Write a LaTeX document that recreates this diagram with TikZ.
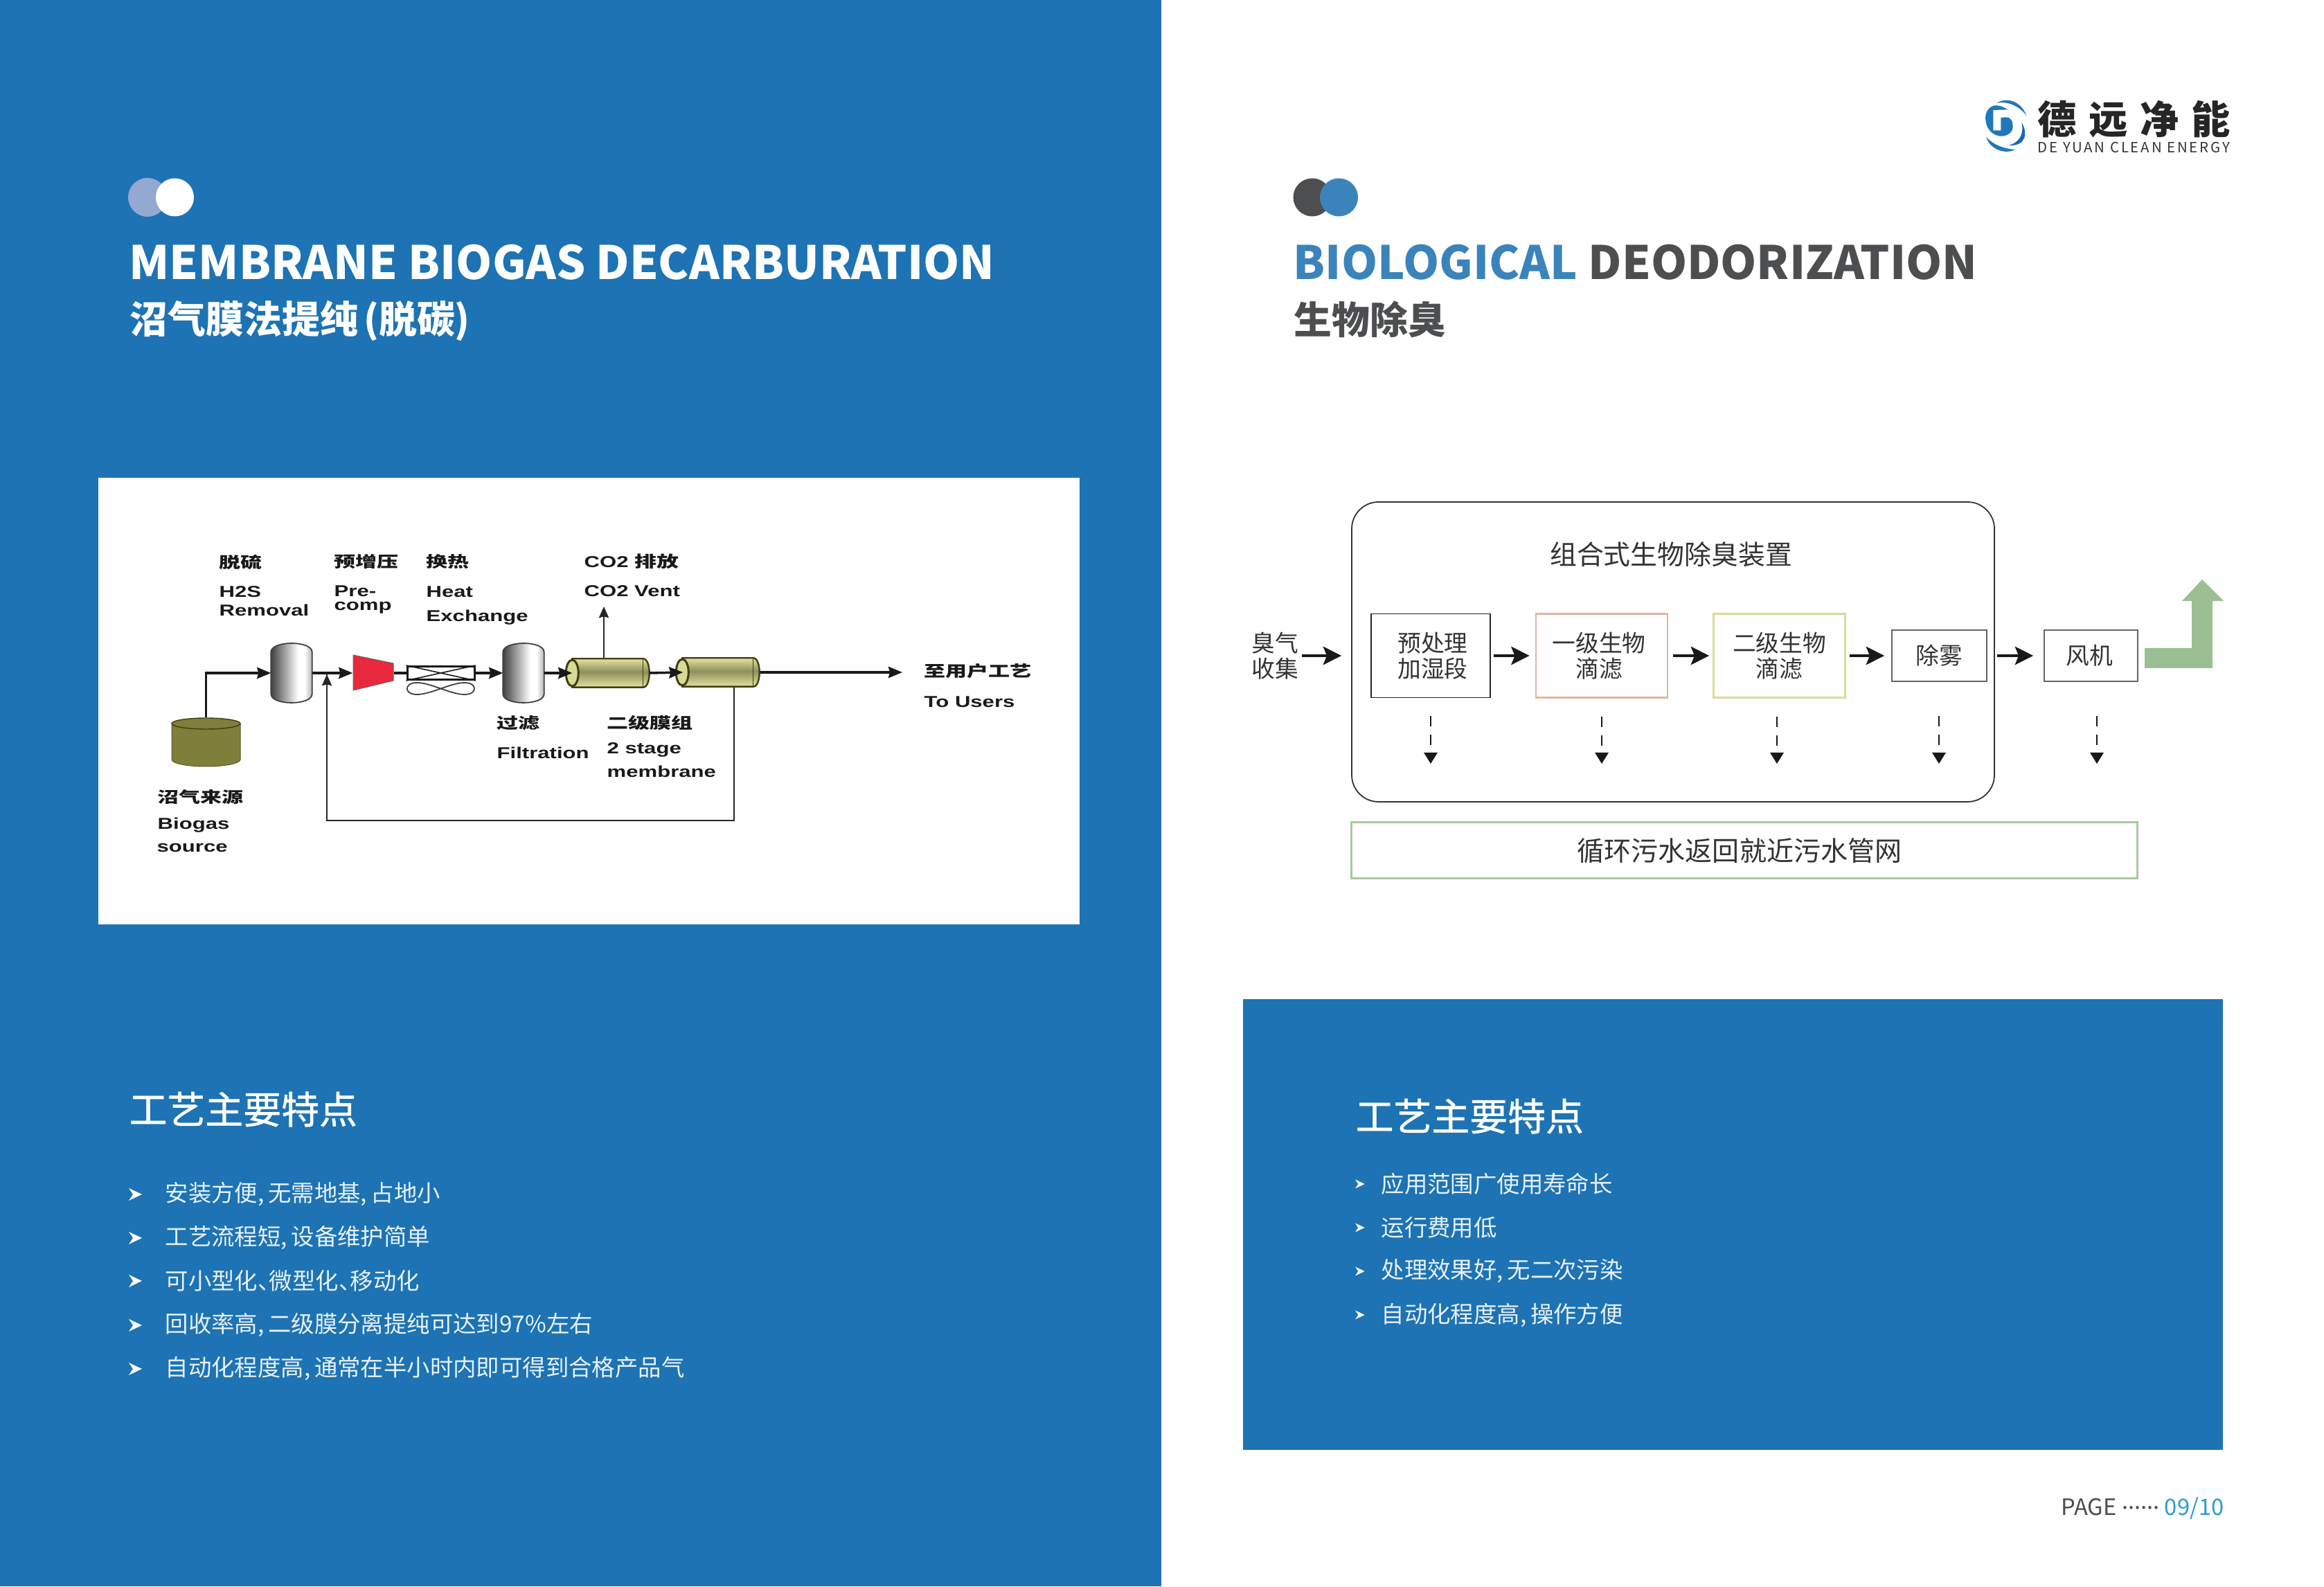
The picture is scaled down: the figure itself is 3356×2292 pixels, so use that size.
\documentclass[tikz,border=0pt]{standalone}
\usepackage{fontspec}
\setmainfont{Noto Sans CJK SC}
\newfontfamily\pidlatin[FakeStretch=1.36]{Liberation Sans}
\newfontfamily\pidcjk[FakeStretch=1.4]{Noto Sans CJK SC}
\usetikzlibrary{arrows.meta,calc}

\newlength{\pxu}
\setlength{\pxu}{0.01cm}

\definecolor{panelblue}{HTML}{1D73B3}
\definecolor{titleblue}{HTML}{3A84BB}
\definecolor{darkgrey}{HTML}{4D4E50}
\definecolor{dotlight}{HTML}{93A9D1}
\definecolor{pagecyan}{HTML}{2A9BD0}
\definecolor{salmonline}{HTML}{DDB7A6}
\definecolor{limeline}{HTML}{D8DC96}
\definecolor{sageline}{HTML}{A9C8A2}
\definecolor{sagefill}{HTML}{9BBF92}
\definecolor{olivefill}{HTML}{7F7F3C}
\definecolor{oliveedge}{HTML}{3F3F14}
\definecolor{memlight}{HTML}{E4E4A0}
\definecolor{memmid}{HTML}{8E8E5C}
\definecolor{memend}{HTML}{D6DA92}
\definecolor{redcomp}{HTML}{E8283C}
\definecolor{logoblue}{HTML}{1F78B8}

\pgfdeclarehorizontalshading{vesselshade}{100bp}{color(0bp)=(black!75); color(25bp)=(black!75); color(58bp)=(white); color(66bp)=(white); color(75bp)=(black!30); color(100bp)=(black!30)}
\pgfdeclareverticalshading{membraneshade}{100bp}{color(0bp)=(memlight); color(25bp)=(memlight); color(52bp)=(memmid); color(75bp)=(memlight); color(100bp)=(memlight)}

\tikzset{
  headline/.style={anchor=west, inner sep=0pt, font=\fontsize{18.9pt}{20pt}\selectfont\bfseries},
  subhead/.style={anchor=west, inner sep=0pt, font=\fontsize{15.6pt}{17pt}\selectfont\bfseries},
  listhead/.style={anchor=west, inner sep=0pt, text=white, font=\fontsize{15.6pt}{17pt}\selectfont\addfontfeature{FakeBold=1}},
  listitem/.style={anchor=west, inner sep=0pt, text=white!90!panelblue, font=\fontsize{9.5pt}{11pt}\selectfont},
  pidtext/.style={anchor=west, inner sep=0pt, text=black!90, font=\fontsize{6.5pt}{7pt}\selectfont\pidlatin\bfseries},
  pidhan/.style={anchor=west, inner sep=0pt, text=black!90, font=\fontsize{6.3pt}{7pt}\selectfont\pidcjk\bfseries},
  pidbox/.style={inner sep=0pt, minimum width=#1\pxu},
  flowbox/.style={draw=#1, inner sep=0pt, align=center, text=black!80, font=\fontsize{9.6pt}{10.5pt}\selectfont},
  flowtext/.style={inner sep=0pt, align=center, text=black!80, font=\fontsize{9.6pt}{10.5pt}\selectfont},
  pidline/.style={line width=3.5\pxu, black!90, -{Stealth[length=5.7pt,width=4.6pt,inset=0.6pt]}},
  pidthin/.style={line width=2.6\pxu, black!85, -{Stealth[length=4.6pt,width=4pt,inset=0.5pt]}},
  flowline/.style={line width=3.4\pxu, black!90, -{Stealth[length=7.5pt,width=7.5pt,inset=1.5pt]}},
  dropline/.style={line width=1.6\pxu, black!90, dash pattern=on 15\pxu off 12\pxu, -{Stealth[length=4.6pt,width=5.6pt,inset=0pt,sep=0pt]}},
  bulletmark/.pic={\fill[white] (0,-9) -- (19,0) -- (0,9) -- (6,0) -- cycle;},
}

\newcommand{\cma}{,\hspace{1.6pt}}
\newcommand{\dun}{、\hspace{-4.8pt}}

% shapes that sit on invisible boxes, so the connectors can use their anchors
\newcommand{\vesselshape}[1]{%
  \shadedraw[shading=vesselshade, draw=black!75, line width=1.8\pxu]
    ($(#1.north west)+(0,13)$) .. controls ($(#1.north west)+(0,-4)$) and ($(#1.north east)+(0,-4)$) .. ($(#1.north east)+(0,13)$)
    -- ($(#1.south east)+(0,-13)$) .. controls ($(#1.south east)+(0,4)$) and ($(#1.south west)+(0,4)$) .. ($(#1.south west)+(0,-13)$) -- cycle;}
\newcommand{\membraneshape}[1]{%
  \shadedraw[shading=membraneshade, draw=oliveedge, line width=2.4\pxu]
    ($(#1.north west)+(10,0)$) -- ($(#1.north east)+(-9,0)$) .. controls ($(#1.north east)+(3,0)$) and ($(#1.south east)+(3,0)$) .. ($(#1.south east)+(-9,0)$)
    -- ($(#1.south west)+(10,0)$) -- cycle;
  \draw[oliveedge, line width=1.4\pxu] ($(#1.north east)+(-9,0)$) -- ($(#1.south east)+(-9,0)$);
  \filldraw[fill=memend, draw=oliveedge, line width=3\pxu] ($(#1.west)+(10,0)$) ellipse (9 and 19);}

\begin{document}
\begin{tikzpicture}[x=0.01cm, y=-0.01cm]
    \useasboundingbox (0,0) rectangle (3356,2292);
    \fill[white] (0,0) rectangle (3356,2292);

    % Left page
    \fill[panelblue] (0,0) rectangle (1677,2291);
    \fill[dotlight] (213,285) circle (28);
    \fill[white] (252.5,285) circle (27.5);
    \node[headline, text=white] (leftTitle) at (186,379) {MEMBRANE BIOGAS DECARBURATION};
    \node[subhead, text=white] (leftSub) at (187,463) {沼气膜法提纯\hspace{2.4pt}(脱碳)};

    \fill[white] (142,690) rectangle (1559,1335);

    % Biogas flow sheet
    \node[pidbox=99, minimum height=70\pxu] (tank) at (297.5,1072) {};
    \node[pidbox=58, minimum height=85\pxu] (desulf) at (421,972) {};
    \node[pidbox=58, minimum height=51\pxu] (comp) at (539,972) {};
    \node[pidbox=97, minimum height=19\pxu, draw=black!90, line width=3\pxu, fill=white] (hx) at (636.5,972) {};
    \node[pidbox=58, minimum height=85\pxu] (filter) at (756,972) {};
    \node[pidbox=120, minimum height=40\pxu] (memA) at (877,972) {};
    \node[pidbox=120, minimum height=40\pxu] (memB) at (1036,971) {};
    \coordinate (vent) at (872,876);
    \coordinate (recycle) at (1060,991);
    \coordinate (recycleIn) at (472,974);
    \coordinate (users) at (1303,971);

    % Tank
    \fill[olivefill, draw=olivefill!70!black, line width=1\pxu] (248,1045) -- (248,1097) arc[start angle=180, end angle=0, x radius=49.5, y radius=10] -- (347,1045) -- cycle;
    \filldraw[fill=olivefill, draw=oliveedge, line width=1.4\pxu] (297.5,1045) ellipse (49.5 and 8);

    % Compressor and heat exchanger
    \fill[redcomp, draw=black!60, line width=1\pxu] (510,946) -- (568,958) -- (568,983) -- (510,997) -- cycle;
    \draw[black!90, line width=1.6\pxu] (hx.north west) -- (hx.south east) (hx.south west) -- (hx.north east);
    \draw[black!75, line width=1.8\pxu, domain=0:360, samples=70, smooth] plot ({636.5+48.5*cos(\x)}, {994.5+17*sin(2*\x)/2});

    % Connectors under the vessels
    \draw[pidline] (tank.north) |- (desulf.west);
    \draw[pidline] (desulf.east) -- (comp.west);
    \draw[line width=3.5\pxu, black!90] (comp.east) -- (hx.west);
    \draw[pidline] (hx.east) -- (filter.west);
    \draw[pidthin] (memA.north -| vent) -- (vent);
    \draw[line width=2.6\pxu, black!85] (recycle) -- ++(0,194) -| (recycleIn);
    \draw[pidthin] ($(recycleIn)+(0,30)$) -- (recycleIn);
    \draw[pidline] (memB.east) -- (users);

    \vesselshape{desulf}
    \vesselshape{filter}
    \membraneshape{memA}
    \membraneshape{memB}
    \draw[pidline] (filter.east) -- ($(memA.west)+(10,0)$);
    \draw[pidline] (memA.east) -- ($(memB.west)+(11,0)$);

    % Flow sheet labels
    \node[pidhan] (lblDesulf) at (316,812) {脱硫};
    \node[pidtext] (lblDesulfA) at (316,855) {H2S};
    \node[pidtext] (lblDesulfB) at (316,881) {Removal};
    \node[pidhan] (lblComp) at (482,811) {预增压};
    \node[pidtext] (lblCompA) at (482,854) {Pre-};
    \node[pidtext] (lblCompB) at (482,878) {comp};
    \node[pidhan] (lblHx) at (615,811) {换热};
    \node[pidtext] (lblHxA) at (615,855) {Heat};
    \node[pidtext] (lblHxB) at (615,892) {Exchange};
    \node[pidtext] (lblVentA) at (843,811) {CO2 {\pidcjk 排放}};
    \node[pidtext] (lblVentB) at (843,854) {CO2 Vent};
    \node[pidhan] (lblFilter) at (717,1044) {过滤};
    \node[pidtext] (lblFilterA) at (717,1087) {Filtration};
    \node[pidhan] (lblMem) at (876,1044) {二级膜组};
    \node[pidtext] (lblMemA) at (876,1083) {2 stage};
    \node[pidtext] (lblMemB) at (876,1114) {membrane};
    \node[pidhan] (lblUsers) at (1334,969) {至用户工艺};
    \node[pidtext] (lblUsersA) at (1334,1014) {To Users};
    \node[pidhan] (lblBiogas) at (227,1151) {沼气来源};
    \node[pidtext] (lblBiogasA) at (227,1192) {Biogas};
    \node[pidtext] (lblBiogasB) at (226,1224) {source};

    % Left feature list
    \node[listhead] (leftList) at (186,1602) {工艺主要特点};
    \pic at (186,1725) {bulletmark};
    \pic at (186,1788) {bulletmark};
    \pic at (186,1850) {bulletmark};
    \pic at (186,1914) {bulletmark};
    \pic at (186,1977) {bulletmark};
    \node[listitem] (leftA) at (238,1725) {安装方便\cma 无需地基\cma 占地小};
    \node[listitem] (leftB) at (238,1788) {工艺流程短\cma 设备维护简单};
    \node[listitem] (leftC) at (238,1850) {可小型化\dun 微型化\dun 移动化};
    \node[listitem] (leftD) at (238,1914) {回收率高\cma 二级膜分离提纯可达到97\%左右};
    \node[listitem] (leftE) at (238,1977) {自动化程度高\cma 通常在半小时内即可得到合格产品气};

    % Logo
    \begin{scope}[shift={(2860,135)}, scale=0.3333]
        \fill[logoblue] (70,42) .. controls (110,15) and (175,30) .. (200,98) .. controls (175,60) and (120,30) .. (70,42) -- cycle;
        \fill[logoblue] (118,70) .. controls (95,55) and (75,50) .. (60,52) .. controls (30,60) and (18,90) .. (22,115) .. controls (25,160) and (60,185) .. (90,185) .. controls (120,185) and (142,165) .. (140,140) .. controls (140,120) and (130,103) .. (112,103) -- (88,105) -- (88,160) -- (55,160) -- (55,72) -- cycle;
        \fill[logoblue!85!blue] (178,125) .. controls (205,170) and (200,230) .. (120,225) .. controls (165,215) and (190,180) .. (178,125) -- cycle;
        \fill[logoblue] (25,188) .. controls (40,245) and (110,265) .. (150,243) .. controls (100,240) and (50,220) .. (25,188) -- cycle;
    \end{scope}
    \node[anchor=west, inner sep=0pt, text=black!85, font=\fontsize{16pt}{17pt}\selectfont\bfseries] (logoCn) at (2942,172) {德\hspace{5pt}远\hspace{5pt}净\hspace{5pt}能};
    \node[anchor=west, inner sep=0pt, text=black!80, font=\fontsize{5.8pt}{6pt}\selectfont\addfontfeature{LetterSpace=14}] (logoEn) at (2942,213) {DE YUAN CLEAN ENERGY};

    % Right page header
    \fill[darkgrey] (1895,285) circle (27.5);
    \fill[titleblue] (1933.5,285) circle (27.5);
    \node[headline, text=darkgrey] (rightTitle) at (1867,379) {{\color{titleblue}BIOLOGICAL} DEODORIZATION};
    \node[subhead, text=darkgrey] (rightSub) at (1868,461) {生物除臭};

    % Deodorization flow
    \node[draw=black!80, line width=1.8\pxu, rounded corners=11pt, minimum width=928\pxu, minimum height=433\pxu, inner sep=0pt] (unit) at (2416,941.5) {};
    \node[inner sep=0pt, text=black!80, font=\fontsize{11.05pt}{13pt}\selectfont] (unitTitle) at (2413,801) {组合式生物除臭装置};
    \node[flowtext] (odor) at (1841,947) {臭气\\收集};
    \node[flowbox=black!85, line width=1.8\pxu, minimum width=172\pxu, minimum height=121\pxu] (pre) at (2066,947) {\hspace*{6\pxu}预处理\\\hspace*{6\pxu}加湿段};
    \node[flowbox=salmonline, line width=2.8\pxu, minimum width=190\pxu, minimum height=121\pxu] (stageA) at (2313,947) {一级生物\hspace*{8\pxu}\\滴滤\hspace*{8\pxu}};
    \node[flowbox=limeline, line width=2.8\pxu, minimum width=190\pxu, minimum height=121\pxu] (stageB) at (2569.5,947) {二级生物\\滴滤};
    \node[flowbox=black!60, line width=1.8\pxu, minimum width=137\pxu, minimum height=74\pxu] (mist) at (2800.5,947) {除雾};
    \node[flowbox=black!60, line width=1.8\pxu, minimum width=135\pxu, minimum height=74\pxu] (fan) at (3019.5,947) {风机\hspace*{5\pxu}};
    \node[draw=sageline, line width=3\pxu, minimum width=1135\pxu, minimum height=81\pxu, inner sep=0pt, text=black!80, font=\fontsize{11.1pt}{12pt}\selectfont] (sewer) at (2518.5,1228.5) {循环污水返回就近污水管网\hspace*{13\pxu}};

    \draw[flowline, shorten >=42\pxu, shorten <=5\pxu] (odor.east) -- (pre.west);
    \draw[flowline, shorten >=8\pxu, shorten <=4\pxu] (pre.east) -- (stageA.west);
    \draw[flowline, shorten >=5\pxu, shorten <=7\pxu] (stageA.east) -- (stageB.west);
    \draw[flowline, shorten >=10\pxu, shorten <=5\pxu] (stageB.east) -- (mist.west);
    \draw[flowline, shorten >=15\pxu, shorten <=14\pxu] (mist.east) -- (fan.west);

    \coordinate (dropPre) at (2066,1103);
    \coordinate (dropA) at (2313,1103);
    \coordinate (dropB) at (2566,1103);
    \coordinate (dropMist) at (2800,1103);
    \coordinate (dropFan) at (3028,1103);
    \draw[dropline, shorten <=26\pxu] (pre.south -| dropPre) -- (dropPre);
    \draw[dropline, shorten <=26\pxu] (stageA.south -| dropA) -- (dropA);
    \draw[dropline, shorten <=26\pxu] (stageB.south -| dropB) -- (dropB);
    \draw[dropline, shorten <=49\pxu] (mist.south -| dropMist) -- (dropMist);
    \draw[dropline, shorten <=49\pxu] (fan.south -| dropFan) -- (dropFan);

    % Outlet arrow
    \fill[sagefill] (3097,936) -- (3165,936) -- (3165,868) -- (3151,868) -- (3180,837) -- (3211,868) -- (3195,868) -- (3195,965) -- (3097,965) -- cycle;

    % Right feature panel
    \fill[panelblue] (1795,1443) rectangle (3210,2094);
    \node[listhead] (rightList) at (1957,1612) {工艺主要特点};
    \pic[scale=0.72] at (1957,1710) {bulletmark};
    \pic[scale=0.72] at (1957,1773) {bulletmark};
    \pic[scale=0.72] at (1957,1836) {bulletmark};
    \pic[scale=0.72] at (1957,1899) {bulletmark};
    \node[listitem] (rightA) at (1994,1710) {应用范围广使用寿命长};
    \node[listitem] (rightB) at (1994,1773) {运行费用低};
    \node[listitem] (rightC) at (1994,1836) {处理效果好\cma 无二次污染};
    \node[listitem] (rightD) at (1994,1900) {自动化程度高\cma 操作方便};

    % Page number
    \node[anchor=east, inner sep=0pt, text=darkgrey, font=\fontsize{9.3pt}{10pt}\selectfont] (pageNo) at (3212,2178) {PAGE \raisebox{0.26em}{......} {\color{pagecyan}09/10}};
\end{tikzpicture}
\end{document}
